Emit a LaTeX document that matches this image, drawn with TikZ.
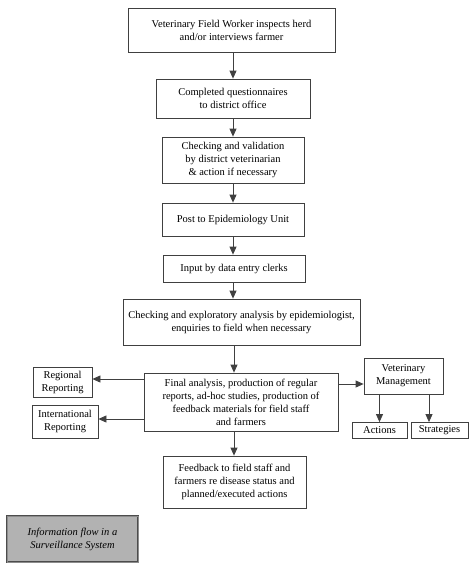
\documentclass[tikz,border=0pt]{standalone}
\usepackage{fontspec}
\setmainfont{Liberation Serif}
\usetikzlibrary{arrows.meta}
\begin{document}
\begin{tikzpicture}[x=1pt,y=-1pt,
  box/.style={draw=black!75,line width=0.8pt,fill=white,align=center,inner sep=1pt,
    font=\fontsize{10.5}{13}\selectfont},
  arr/.style={draw=black!75,line width=0.8pt,-{Triangle[width=7pt,length=8pt]}}]
\useasboundingbox (0,0) rectangle (475,571);
\node[box,minimum width=207pt,minimum height=44pt] (b1) at (231.5,30) {Veterinary Field Worker inspects herd\\and/or interviews farmer};
\node[box,minimum width=154pt,minimum height=39pt] (b2) at (233,98.5) {Completed questionnaires\\to district office};
\node[box,minimum width=142pt,minimum height=46pt] (b3) at (233,160) {Checking and validation\\by district veterinarian\\\& action if necessary};
\node[box,minimum width=142pt,minimum height=33pt] (b4) at (233,219.5) {Post to Epidemiology Unit};
\node[box,minimum width=142pt,minimum height=27pt] (b5) at (234,268.5) {Input by data entry clerks};
\node[box,minimum width=237pt,minimum height=46pt] (b6) at (241.5,322) {Checking and exploratory analysis by epidemiologist,\\enquiries to field when necessary};
\node[box,minimum width=194pt,minimum height=58pt] (b7) at (241,402) {Final analysis, production of regular\\reports, ad-hoc studies, production of\\feedback materials for field staff\\and farmers};
\node[box,minimum width=59pt,minimum height=30pt] (reg) at (62.5,382) {Regional\\Reporting};
\node[box,minimum width=66pt,minimum height=33pt] (int) at (65,421.5) {International\\Reporting};
\node[box,minimum width=79pt,minimum height=36pt] (vm) at (403.5,376) {Veterinary\\Management};
\node[box,minimum width=55pt,minimum height=16pt] (act) at (379.5,430.5) {Actions};
\node[box,minimum width=57pt,minimum height=16pt] (str) at (439.5,430.5) {Strategies};
\node[box,minimum width=143pt,minimum height=52pt] (fb) at (234.5,482) {Feedback to field staff and\\farmers re disease status and\\planned/executed actions};
\node[draw=black!70,double=black!45,double distance=0.6pt,line width=0.6pt,fill=black!30,
  minimum width=131pt,minimum height=46pt,align=center,font=\fontsize{10.5}{13}\selectfont\itshape] (cap) at (72.5,539) {Information flow in a\\Surveillance System};
\draw[arr] (b1.south -| 233,0) -- (b2.north -| 233,0);
\draw[arr] (b2.south -| 233,0) -- (b3.north -| 233,0);
\draw[arr] (b3.south -| 233,0) -- (b4.north -| 233,0);
\draw[arr] (b4.south -| 233,0) -- (b5.north -| 233,0);
\draw[arr] (b5.south -| 233,0) -- (b6.north -| 233,0);
\draw[arr] (b6.south -| 234,0) -- (b7.north -| 234,0);
\draw[arr] (b7.south -| 234,0) -- (fb.north -| 234,0);
\draw[arr] (b7.west |- 0,379) -- (reg.east |- 0,379);
\draw[arr] (b7.west |- 0,419) -- (int.east |- 0,419);
\draw[arr] (b7.east |- 0,384) -- (vm.west |- 0,384);
\draw[arr] (vm.south -| act) -- (act.north);
\draw[arr] (vm.south -| 429,0) -- (str.north -| 429,0);
\end{tikzpicture}
\end{document}
